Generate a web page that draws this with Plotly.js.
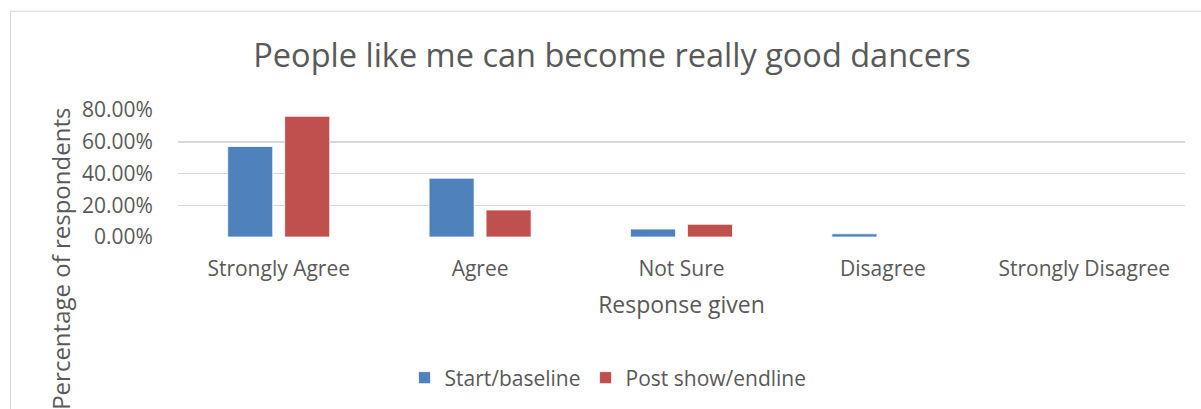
<!DOCTYPE html>
<html>
<head>
<meta charset="utf-8">
<script src="https://cdn.plot.ly/plotly-3.0.1.min.js"></script>
<style>
  html, body { margin: 0; padding: 0; background: #ffffff; }
  #chart { width: 1201px; height: 409px; }
</style>
</head>
<body>
<div id="chart"></div>
<script>
const categories = ["Strongly Agree", "Agree", "Not Sure", "Disagree", "Strongly Disagree"];
const seriesNames = ["Start/baseline", "Post show/endline"];
const baseline = [0.57, 0.37, 0.05, 0.02, 0];
const endline = [0.76, 0.17, 0.08, 0, 0];
const yTicks = [0, 0.2, 0.4, 0.6, 0.8];

const FONT = "'Open Sans', 'Noto Sans', sans-serif";
const TXT = "#595959";

const traces = [
  {
    type: "bar", name: seriesNames[0], x: categories, y: baseline,
    marker: { color: "#4F81BD", line: { color: "#ffffff", width: 0.75 } },
    hoverinfo: "x+y"
  },
  {
    type: "bar", name: seriesNames[1], x: categories, y: endline,
    marker: { color: "#C0504D", line: { color: "#ffffff", width: 0.75 } },
    hoverinfo: "x+y"
  }
];

const layout = {
  width: 1201, height: 409,
  margin: { l: 178, r: 16, t: 110, b: 171 },
  paper_bgcolor: "#ffffff", plot_bgcolor: "#ffffff",
  font: { family: FONT, color: TXT },
  barmode: "group",
  bargap: 0.434,
  bargroupgap: 0.21,
  title: {
    text: "People like me can become really good dancers",
    font: { family: FONT, size: 32.5, color: TXT },
    xref: "container", x: 612 / 1201, xanchor: "center",
    yref: "container", y: 1 - 56 / 409, yanchor: "middle"
  },
  xaxis: {
    type: "category",
    showgrid: false, zeroline: false, showline: false,
    ticks: "outside", ticklen: 13, tickcolor: "rgba(0,0,0,0)",
    tickfont: { family: FONT, size: 21, color: TXT },
    title: { text: "Response given", font: { family: FONT, size: 23, color: TXT }, standoff: 15 }
  },
  yaxis: {
    range: [0, 0.8],
    tickvals: yTicks,
    tickformat: ".2%",
    showgrid: true, gridcolor: "#d9d9d9", gridwidth: 1.5,
    zeroline: false, showline: false,
    ticks: "outside", ticklen: 20, tickcolor: "rgba(0,0,0,0)",
    tickfont: { family: FONT, size: 21, color: TXT }
  },
  showlegend: true,
  legend: {
    orientation: "h",
    x: (608 - 178) / 1007, xanchor: "center",
    y: (238 - 378) / 128, yanchor: "middle",
    font: { family: FONT, size: 21, color: TXT },
    itemclick: false, itemdoubleclick: false
  },
  annotations: [
    {
      text: "Percentage of respondents",
      xref: "paper", yref: "paper",
      x: (61 - 178) / 1007, y: (238 - 260) / 128,
      xanchor: "center", yanchor: "middle",
      textangle: -90, showarrow: false,
      font: { family: FONT, size: 24, color: TXT }
    }
  ],
  shapes: [
    {
      type: "rect", xref: "paper", yref: "paper", layer: "below",
      x0: (10.5 - 178) / 1007, x1: 1.2,
      y0: -2.0, y1: (238 - 10.5) / 128,
      line: { color: "#d9d9d9", width: 1 }, fillcolor: "rgba(0,0,0,0)"
    }
  ]
};

Plotly.newPlot("chart", traces, layout, { displayModeBar: false, staticPlot: true });
</script>
</body>
</html>
